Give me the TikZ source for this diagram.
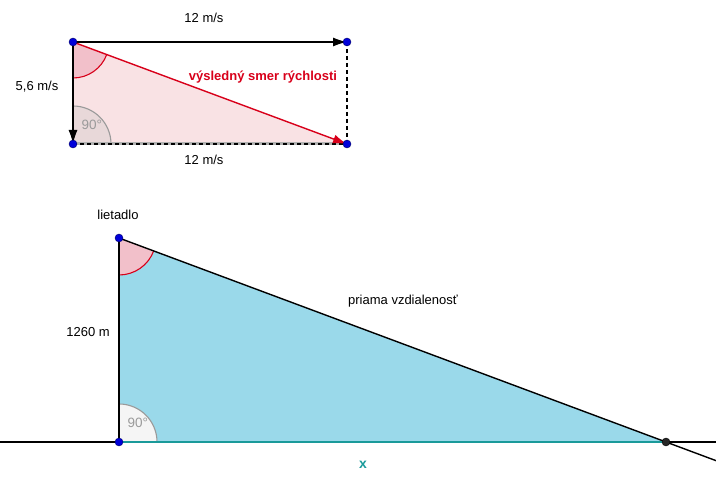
\documentclass[tikz,border=0pt]{standalone}
\usepackage{fontspec}
\setmainfont{Liberation Sans}
\usetikzlibrary{calc,angles,quotes,arrows.meta}

\definecolor{ggred}{HTML}{D8001A}
\definecolor{ggpink}{HTML}{F9E2E4}
\definecolor{ggangle}{HTML}{F2C0CA}
\definecolor{ggblue}{HTML}{9AD9EA}
\definecolor{ggteal}{HTML}{1A9A9A}
\definecolor{gggray}{HTML}{9A9A9A}
\definecolor{ggright}{HTML}{E8D8D9}

\tikzset{
  dot/.style={circle, fill=blue!85!black, draw=blue!40!black, inner sep=0pt, minimum size=8pt},
  vec/.style={line width=1.4pt, -{Latex[length=14pt,width=9pt]}},
  dash line/.style={line width=1.3pt, dash pattern=on 4pt off 3pt},
  txt/.style={font=\fontsize{13}{15}\selectfont}
}

\begin{document}
\begin{tikzpicture}[x=1pt,y=1pt]
  \useasboundingbox (0,0) rectangle (716,-494);

  % velocity rectangle
  \coordinate (A) at (73,-42);
  \coordinate (B) at (347,-42);
  \coordinate (C) at (73,-144);
  \coordinate (D) at (347,-144);

  \fill[ggpink] (A) -- (C) -- (D) -- cycle;
  \pic[draw=ggred, fill=ggangle, line width=1.1pt, angle radius=36pt] {angle = C--A--D};
  \pic[draw=gggray, fill=ggright, line width=1.1pt, angle radius=38pt,
       "\textcolor{gggray}{\fontsize{13.5}{15}\selectfont 90°}", angle eccentricity=0.7] {angle = D--C--A};

  \draw[gray!60, line width=3pt] (C) -- (D);
  \draw[dash line] (C) -- (D);
  \draw[dash line] (B) -- (D);
  \draw[vec] (A) -- (B);
  \draw[vec] (A) -- (C);
  \draw[vec, ggred] (A) -- (D);

  \node[dot] at (A) {};
  \node[dot] at (B) {};
  \node[dot] at (C) {};
  \node[dot] at (D) {};

  \node[txt] at (204,-18) {12 m/s};
  \node[txt] at (204,-160) {12 m/s};
  \node[txt] at (37,-87) {5,6 m/s};
  \node[txt, text=ggred, font=\bfseries\fontsize{13}{15}\selectfont] at (263,-77) {výsledný smer rýchlosti};

  % plane triangle
  \coordinate (P) at (119,-238);
  \coordinate (Q) at (119,-442);
  \coordinate (R) at (666,-442);
  \coordinate (E) at ($(P)!1.0914!(R)$);

  \fill[ggblue] (P) -- (Q) -- (R) -- cycle;
  \pic[draw=ggred, fill=ggangle, line width=1.1pt, angle radius=37pt] {angle = Q--P--R};
  \pic[draw=gggray, fill=gray!8, line width=1.1pt, angle radius=38pt,
       "\textcolor{gggray}{\fontsize{13.5}{15}\selectfont 90°}", angle eccentricity=0.7] {angle = R--Q--P};

  \draw[line width=1.4pt] (0,-442) -- (716,-442);
  \draw[line width=1.4pt] (P) -- (E);
  \draw[line width=1.4pt] (P) -- (Q);
  \draw[ggteal, line width=2.6pt] (Q) -- (R);

  \node[dot] at (P) {};
  \node[dot] at (Q) {};
  \node[dot, fill=gray!30!black, draw=black] at (R) {};

  \node[txt] at (118,-215) {lietadlo};
  \node[txt] at (88,-332) {1260 m};
  \node[txt] at (403,-301) {priama vzdialenosť};
  \node[txt, text=ggteal, font=\bfseries\fontsize{14}{16}\selectfont] at (363,-465) {x};
\end{tikzpicture}
\end{document}
